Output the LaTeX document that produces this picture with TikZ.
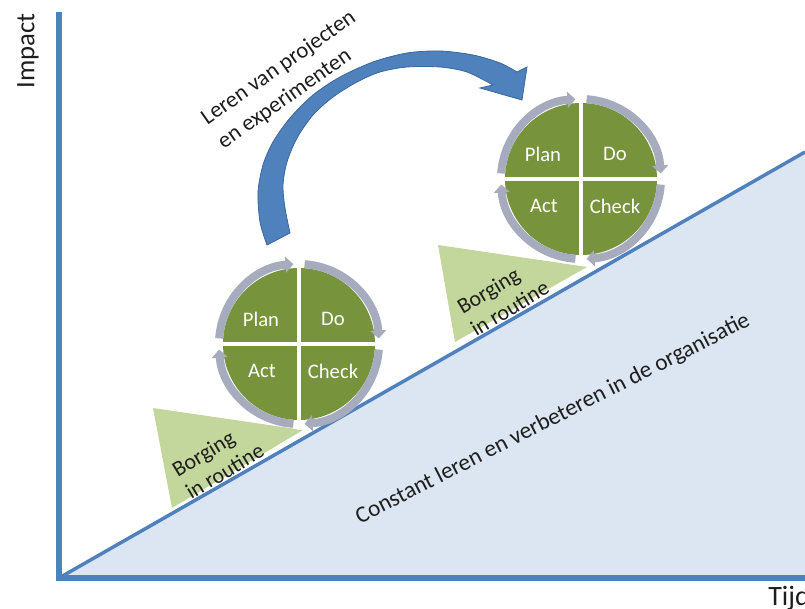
\documentclass[tikz,border=0pt]{standalone}
\usepackage{fontspec}
\setmainfont{Carlito}
\usetikzlibrary{arrows.meta,calc}
\definecolor{axisblue}{HTML}{4F81BD}
\definecolor{areablue}{HTML}{DCE6F2}
\definecolor{arrowblue}{HTML}{4F81BD}
\definecolor{arrowedge}{HTML}{3A679C}
\definecolor{pdcagreen}{HTML}{77933C}
\definecolor{ringgray}{HTML}{A6ABBD}
\definecolor{borggreen}{HTML}{C3D69B}
\definecolor{inktext}{HTML}{1E1E1E}
\tikzset{
  axisline/.style={draw=axisblue, line width=4pt},
  diagline/.style={draw=axisblue, line width=2.6pt},
  pdcadisk/.style={circle, fill=pdcagreen, minimum size=114pt, inner sep=0pt},
  gapline/.style={draw=white, line width=3.6pt},
  ringarrow/.style={draw=ringgray, line width=6pt, -{Triangle[length=6pt,width=12pt]}},
  pdcatext/.style={font=\fontsize{15.5}{18}\selectfont, text=white, inner sep=0pt},
  borgtri/.style={fill=borggreen},
  borgtext/.style={font=\fontsize{16.5}{19.5}\selectfont, text=inktext, align=left, rotate=31, inner sep=0pt},
  slanttext/.style={font=\fontsize{17}{21.75}\selectfont, text=inktext, align=left, inner sep=0pt},
  axislabel/.style={font=\fontsize{20}{24}\selectfont, text=inktext, inner sep=0pt},
  bigarrow/.style={fill=arrowblue, draw=arrowedge, line width=0.6pt},
}
\newcommand{\pdcaring}[1]{%
  \draw[gapline] ([yshift=7pt]#1.north) -- ([yshift=-7pt]#1.south);
  \draw[gapline] ([xshift=-7pt]#1.west) -- ([xshift=7pt]#1.east);
  \foreach \a in {0,90,180,270}
    \draw[ringarrow] ([shift={(\a+176:60pt)}]#1.center) arc[start angle=\a+176, end angle=\a+94, radius=60pt];
  \node[pdcatext] (#1plan)  at ([shift={(-38,25)}]#1.center) {Plan};
  \node[pdcatext] (#1do)    at ([shift={(34,25)}]#1.center) {Do};
  \node[pdcatext] (#1act)   at ([shift={(-37,-27)}]#1.center) {Act};
  \node[pdcatext] (#1check) at ([shift={(34,-27)}]#1.center) {Check};
}
\begin{document}
\begin{tikzpicture}[x=0.75pt,y=0.75pt]
  \useasboundingbox (0,0) rectangle (805,608);
  \fill[white] (0,0) rectangle (805,608);
  % axes
  \coordinate (O) at (59,30);
  \coordinate (ytop) at (59,596);
  \coordinate (xend) at (805,30);
  \coordinate (dend) at (805,456);
  \fill[areablue] (O) -- (dend) -- (xend) -- cycle;
  \draw[diagline] (O) -- (dend);
  \draw[axisline] (ytop) -- (O) -- (xend);
  \node[axislabel, rotate=90] (impact) at (28,557) {Impact};
  \node[axislabel, font=\fontsize{21}{24}\selectfont, anchor=base west] (tijd) at (768,3) {Tijd};
  % borging triangles
  \coordinate (t1a) at (153,200); \coordinate (t1b) at (303,178); \coordinate (t1c) at (172,100);
  \coordinate (t2a) at (438,363); \coordinate (t2b) at (587,341); \coordinate (t2c) at (455,266);
  \fill[borgtri] (t1a) -- (t1b) -- (t1c) -- cycle;
  \fill[borgtri] (t2a) -- (t2b) -- (t2c) -- cycle;
  \node[borgtext] (borg1) at (218,148) {Borging\\in routine};
  \node[borgtext] (borg2) at (503,311) {Borging\\in routine};
  % PDCA circles
  \node[pdcadisk] (c1) at (299,264) {};
  \pdcaring{c1}
  \node[pdcadisk] (c2) at (581,429) {};
  \pdcaring{c2}
  % big curved arrow
  \path[bigarrow]
    plot[smooth] coordinates {(267,363) (260,386) (258,416) (263,443) (273,466) (290,490) (313,513) (340,531) (373,546) (407,555) (440,557) (473,553) (500,545) (517,536)}
    -- (527,541) -- (522,508) -- (480,520) --
    plot[smooth] coordinates {(493,523) (467,536) (440,541) (407,541) (380,536) (357,526) (333,511) (313,493) (297,470) (287,446) (283,423) (285,400) (290,375)}
    -- cycle;
  \node[slanttext, rotate=35] (leren) at (287,528) {Leren van projecten\\en experimenten};
  \node[slanttext, font=\fontsize{17.5}{21}\selectfont, rotate=27] (constant) at (553,189) {Constant leren en verbeteren in de organisatie};
\end{tikzpicture}
\end{document}
